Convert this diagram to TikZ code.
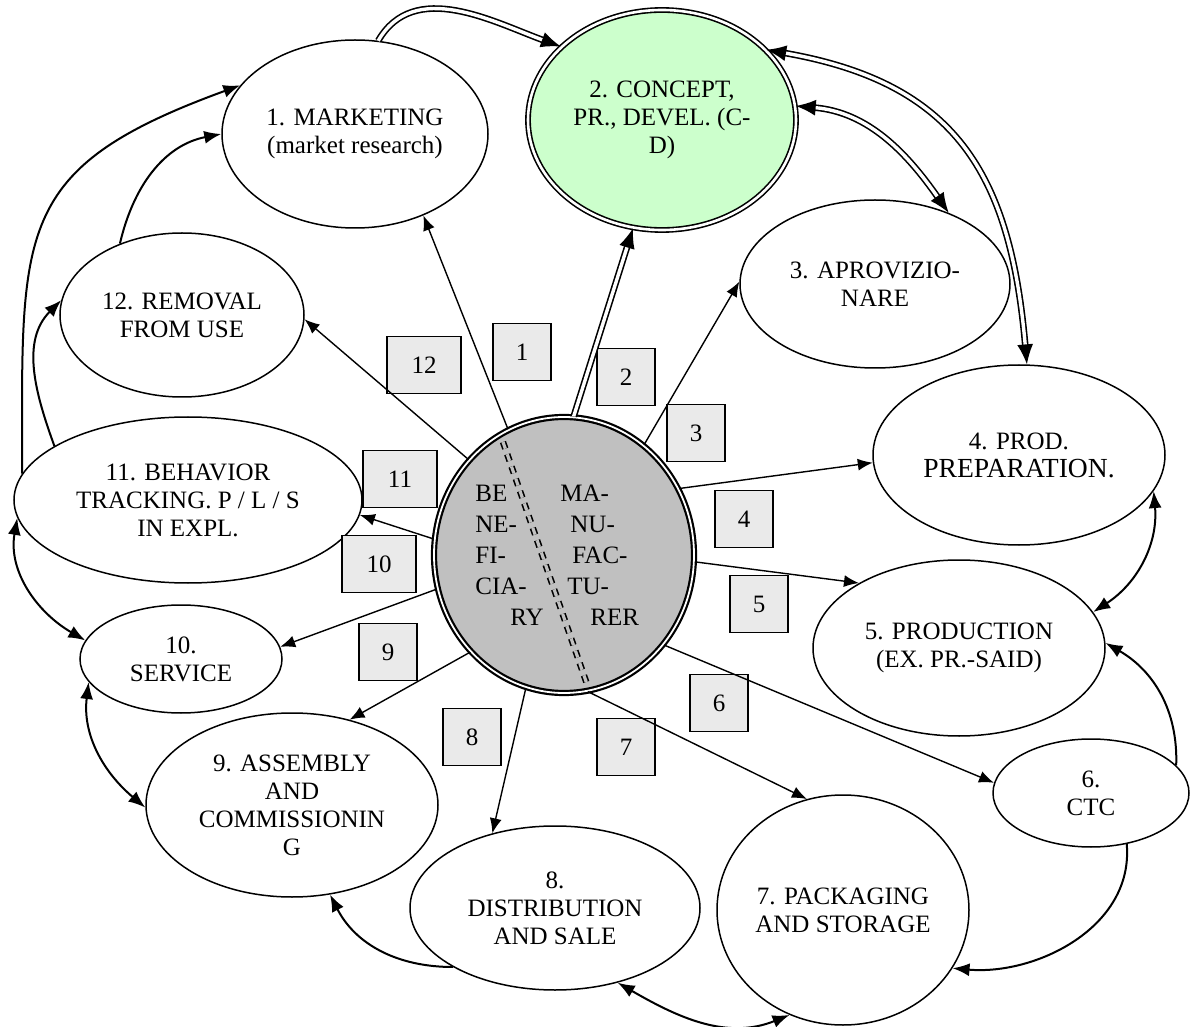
\documentclass[tikz,border=0pt]{standalone}
\usepackage{fontspec}
\setmainfont{Liberation Serif}
\usepackage{tikz}
\usetikzlibrary{shapes.geometric, arrows.meta}
\definecolor{conceptgreen}{RGB}{204,255,204}
\definecolor{coregray}{RGB}{192,192,192}
\definecolor{boxgray}{RGB}{234,234,234}
\tikzstyle{stage} = [ellipse, draw=black, line width=0.75pt, inner sep=0pt, align=center, font=\fontsize{12.5}{14}\selectfont]
\tikzstyle{concept} = [stage, fill=conceptgreen, line width=0.8pt, double=white, double distance=1.3pt]
\tikzstyle{core} = [ellipse, draw=black, fill=coregray, line width=1.1pt, double=white, double distance=0.9pt, inner sep=0pt]
\tikzstyle{coretext} = [anchor=west, inner sep=0pt, align=left, font=\fontsize{12.5}{15.5}\selectfont]
\tikzstyle{numbox} = [rectangle, draw=black, fill=boxgray, line width=0.6pt, inner sep=0pt, minimum width=29pt, minimum height=28.5pt, font=\fontsize{12.5}{14}\selectfont]
\tikzstyle{widebox} = [numbox, minimum width=37pt]
\tikzstyle{arrow} = [line width=0.7pt, -{Latex[length=7.5pt,width=6pt]}]
\tikzstyle{linkarrow} = [line width=1pt, -{Latex[length=8.5pt,width=6.5pt]}]
\tikzstyle{twoway} = [line width=1pt, {Latex[length=8.5pt,width=6.5pt]}-{Latex[length=8.5pt,width=6.5pt]}]
\tikzstyle{dblarrow} = [line width=0.8pt, double=white, double distance=1.7pt, -{Latex[length=10pt,width=8pt]}]
\tikzstyle{dbltwoway} = [dblarrow, {Latex[length=10pt,width=8pt]}-{Latex[length=10pt,width=8pt]}]
\tikzstyle{divider} = [line width=0.8pt, double=coregray, double distance=1.6pt, dash pattern=on 3.5pt off 3pt]

\begin{document}
\begin{tikzpicture}[x=0.5pt, y=0.5pt]
\useasboundingbox (0,0) rectangle (1190,-1027);

% stages round the circle
\node (m1) [stage, minimum width=133pt, minimum height=94pt] at (355,-134) {1. MARKETING\\(market research)};
\node (m2) [concept, minimum width=134pt, minimum height=110pt] at (662,-120) {2. CONCEPT,\\PR., DEVEL. (C-\\D)};
\node (m3) [stage, minimum width=135pt, minimum height=84pt] at (875,-284) {3. APROVIZIO-\\NARE};
\node (m4) [stage, minimum width=146pt, minimum height=90pt] at (1019,-455) {4. PROD.\\{\fontsize{13.8}{14}\selectfont PREPARATION.}};
\node (m5) [stage, minimum width=146pt, minimum height=88pt] at (959,-648) {5. PRODUCTION\\(EX. PR.-SAID)};
\node (m6) [stage, minimum width=98pt, minimum height=54pt] at (1091,-793) {6.\\CTC};
\node (m7) [stage, minimum width=126pt, minimum height=115pt] at (843,-910) {7. PACKAGING\\AND STORAGE};
\node (m8) [stage, minimum width=145pt, minimum height=82pt] at (555,-908) {8.\\DISTRIBUTION\\AND SALE};
\node (m9) [stage, minimum width=146pt, minimum height=92pt] at (292,-805) {9. ASSEMBLY\\AND\\COMMISSIONIN\\G};
\node (m10) [stage, minimum width=101pt, minimum height=54pt] at (181,-659) {10.\\SERVICE};
\node (m11) [stage, minimum width=174pt, minimum height=83pt] at (188,-500) {11. BEHAVIOR\\TRACKING. P / L / S\\IN EXPL.};
\node (m12) [stage, minimum width=122pt, minimum height=82pt] at (182,-315) {12. REMOVAL\\FROM USE};

% beneficiary / manufacturer
\node (ctr) [core, minimum width=130pt, minimum height=138pt] at (564,-555) {};
\draw [divider] (503,-442) -- (588,-687);
\node (benef) [coretext] at (475,-555) {BE\\NE-\\FI-\\CIA-\\\hspace*{17.5pt}RY};
\node (manuf) [coretext] at (560,-555) {MA-\\\hspace*{5pt}NU-\\\hspace*{6pt}FAC-\\\hspace*{3.5pt}TU-\\\hspace*{15pt}RER};

% numbered boxes
\node (b1) [numbox] at (522,-352) {1};
\node (b2) [numbox] at (626,-377) {2};
\node (b3) [numbox] at (696,-433) {3};
\node (b4) [numbox] at (744,-519) {4};
\node (b5) [numbox] at (759,-604) {5};
\node (b6) [numbox] at (719,-703) {6};
\node (b7) [numbox] at (626,-747) {7};
\node (b8) [numbox] at (472,-737) {8};
\node (b9) [numbox] at (388,-652) {9};
\node (b10) [widebox] at (379,-564) {10};
\node (b11) [widebox] at (400,-479) {11};
\node (b12) [widebox] at (424,-365) {12};

% spokes
\draw [arrow] (ctr.114) -- (m1.-50);
\draw [dblarrow] (ctr.86) -- (m2.-105);
\draw [arrow] (ctr.54) -- (m3.179);
\draw [arrow] (ctr.30) -- (m4.-177);
\draw [arrow] (ctr.-3) -- (m5.147);
\draw [arrow] (ctr.-42) -- (m6.174);
\draw [arrow] (ctr.-80) -- (m7.108);
\draw [arrow] (ctr.-106) -- (m8.130);
\draw [arrow] (ctr.-134) -- (m9.56);
\draw [arrow] (ctr.-165) -- (m10.7);
\draw [arrow] (ctr.173) -- (m11.-5);
\draw [arrow] (ctr.135) -- (m12.-2);

% outer ring
\draw [dblarrow] (m1.76) to[out=60, in=160] (m2.144);
\draw [dbltwoway] (m2.6) to[out=-5, in=125] (m3.44);
\draw [dbltwoway] (m2.34) to[out=-10, in=95, looseness=1.2] (m4.85);
\draw [twoway] (m4.-15) to[out=-85, in=33] (m5.15);
\draw [linkarrow] (m6.18) to[out=88, in=-30] (m5.2);
\draw [linkarrow] (m6.-55) to[out=-85, in=-5] (m7.-28);
\draw [twoway] (m8.-50) to[out=-30, in=202] (m7.-117);
\draw [linkarrow] (m8.-150) to[out=180, in=-63] (m9.-67);
\draw [twoway] (m10.-166) to[out=-97, in=140] (m9.181);
\draw [twoway] (m11.186) to[out=-100, in=150] (m10.169);
\draw [linkarrow] (m11.158) to[out=110, in=225] (m12.173);
\draw [linkarrow] (m12.131) to[out=77, in=191] (m1.180);
\draw [linkarrow] (m11.171) to[out=90, in=200, looseness=1.4] (m1.157);
\end{tikzpicture}
\end{document}
